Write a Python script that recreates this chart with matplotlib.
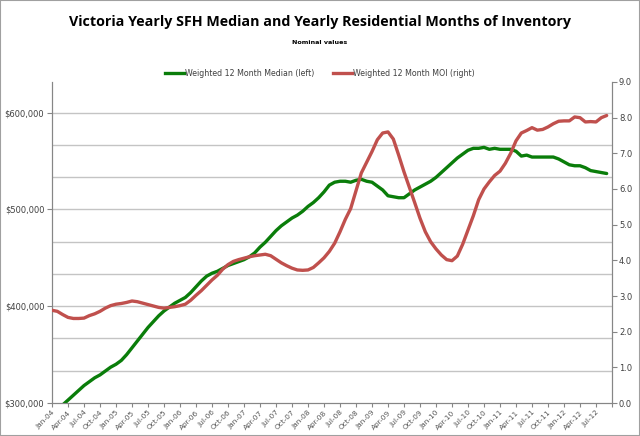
import numpy as np
import matplotlib
matplotlib.use("Agg")
import matplotlib.pyplot as plt
from matplotlib.ticker import FuncFormatter, MultipleLocator, FixedLocator
from matplotlib.patches import Rectangle

# months since Jan-04 (monthly data, Jan-04 .. Sep-12)
median_k = [288, 293, 298, 303, 308, 313, 318, 322, 326, 329,
            333, 337, 340, 344, 350, 357, 364, 371, 378, 384,
            390, 395, 399, 403, 406, 409, 414, 420, 426, 431,
            434, 436, 439, 442, 444, 446, 448, 451, 455, 461,
            466, 472, 478, 483, 487, 491, 494, 498, 503, 507,
            512, 518, 525, 528, 529, 529, 528, 530, 531, 529,
            528, 524, 520, 514, 513, 512, 512, 516, 520, 523,
            526, 529, 533, 538, 543, 548, 553, 557, 561, 563,
            563, 564, 562, 563, 562, 562, 562, 560, 555, 556,
            554, 554, 554, 554, 554, 552, 549, 546, 545, 545,
            543, 540, 539, 538, 537]
moi = [2.60, 2.57, 2.48, 2.40, 2.37, 2.37, 2.38, 2.45, 2.50, 2.57,
       2.66, 2.73, 2.77, 2.79, 2.82, 2.86, 2.84, 2.80, 2.76, 2.72,
       2.68, 2.66, 2.68, 2.70, 2.73, 2.77, 2.88, 3.02, 3.15, 3.30,
       3.45, 3.58, 3.75, 3.88, 3.97, 4.02, 4.06, 4.10, 4.13, 4.15,
       4.17, 4.13, 4.03, 3.93, 3.85, 3.78, 3.73, 3.72, 3.73, 3.80,
       3.93, 4.07, 4.25, 4.48, 4.80, 5.15, 5.45, 5.95, 6.45, 6.75,
       7.05, 7.38, 7.57, 7.60, 7.40, 6.95, 6.48, 6.05, 5.62, 5.18,
       4.80, 4.52, 4.32, 4.15, 4.02, 3.99, 4.12, 4.45, 4.85, 5.25,
       5.70, 6.00, 6.20, 6.38, 6.50, 6.72, 7.00, 7.35, 7.57, 7.64,
       7.72, 7.65, 7.67, 7.74, 7.83, 7.90, 7.91, 7.91, 8.02, 8.00,
       7.88, 7.89, 7.88, 8.00, 8.06]

month_names = ["Jan", "Apr", "Jul", "Oct"]
years = list(range(4, 13))
tick_labels = [f"{m}-{y:02d}" for y in years for m in month_names][:35]  # Jan-04 .. Jul-12

green = "#0a7d0a"
red = "#c0504d"
axis_gray = "#868686"
grid_gray = "#c4c4c4"
text_gray = "#404040"

plt.rcParams['font.family'] = ['DejaVu Sans']

fig = plt.figure(figsize=(6.4, 4.36), dpi=100)
ax = fig.add_axes([52/640, 33/436, 560/640, 321/436])
ax2 = ax.twinx()

months = np.arange(len(median_k))
ax.plot(months, np.array(median_k) * 1000, color=green, lw=2.4, solid_capstyle='round', zorder=3)
ax2.plot(months, moi, color=red, lw=2.4, solid_capstyle='round', zorder=3)

ax.set_xlim(0, 105)
ax.set_ylim(300000, 631500)
ax2.set_ylim(0, 9)

# gridlines every third of 100k on the left axis
for k in range(1, 10):
    ax.axhline(300000 + k * 100000 / 3, color=grid_gray, lw=1, zorder=0)

ax.yaxis.set_major_locator(FixedLocator([300000, 400000, 500000, 600000]))
ax.yaxis.set_major_formatter(FuncFormatter(lambda v, p: f"${v:,.0f}"))
ax2.yaxis.set_major_locator(MultipleLocator(1))
ax2.yaxis.set_major_formatter(FuncFormatter(lambda v, p: f"{v:.1f}"))

ax.set_xticks(np.arange(0, 106, 3))
ax.set_xticklabels(tick_labels + [""], rotation=45, ha='right', rotation_mode='anchor')

for a in (ax, ax2):
    for s in a.spines.values():
        s.set_color(axis_gray)
    a.spines['top'].set_visible(False)
    a.tick_params(colors=axis_gray, labelcolor=text_gray, labelsize=6, length=3.5, width=0.8, pad=2)
ax.tick_params(axis='x', labelsize=5.3, length=3, pad=1.5, labelcolor="#555555")
ax2.tick_params(axis='y', pad=1.5)

# legend
h1, = ax.plot([], [], color=green, lw=2.4)
h2, = ax.plot([], [], color=red, lw=2.4)
fig.legend([h1, h2], ["Weighted 12 Month Median (left)", "Weighted 12 Month MOI (right)"],
           loc='center', bbox_to_anchor=(0.5, 1 - 73/436), ncol=2, frameon=False,
           fontsize=5.7, handlelength=2.4, handletextpad=0.1, columnspacing=2.4,
           labelcolor=text_gray)

fig.text(0.5, 1 - 22/436, "Victoria Yearly SFH Median and Yearly Residential Months of Inventory",
         ha='center', va='center', fontsize=10.3, fontweight='bold', family='Open Sans')
fig.text(0.5, 1 - 43/436, "Nominal values", ha='center', va='center',
         fontsize=4.6, fontweight='bold')

fig.patches.append(Rectangle((0, 0), 1, 1, transform=fig.transFigure, fill=False,
                             edgecolor="#a0a0a0", lw=1.5))

fig.savefig("out.png", dpi=100)
